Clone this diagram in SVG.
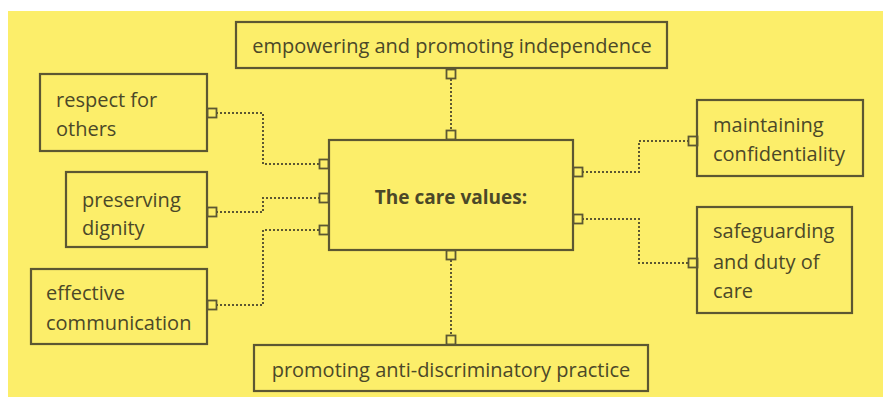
<svg xmlns="http://www.w3.org/2000/svg" width="883" height="397" viewBox="0 0 883 397">
<style>
.box{fill:none;stroke:#5c5732;stroke-width:2.2}
.sq{fill:#fcee6a;stroke:#5c5732;stroke-width:1.8}
.dot{fill:none;stroke:#5c5732;stroke-width:2;stroke-dasharray:2 2}
text{font-family:"Open Sans","Noto Sans","Liberation Sans",sans-serif;font-size:20px;fill:#4b4828}
.c{text-anchor:middle}
.b{font-weight:700;font-size:19px}
</style>
<rect x="0" y="0" width="883" height="397" fill="#ffffff"/>
<rect x="8" y="11" width="875" height="386" fill="#fcee6a"/>
<g id="connectors">
<path class="dot" d="M451 79V130"/>
<path class="dot" d="M451 260V335"/>
<path class="dot" d="M216 113H263V164H319"/>
<path class="dot" d="M216 212H263V198H319"/>
<path class="dot" d="M216 305H263V230H319"/>
<path class="dot" d="M582 172H639V141H688"/>
<path class="dot" d="M582 219H639V263H688"/>
<rect class="sq" x="446.5" y="69.5" width="9" height="9"/>
<rect class="sq" x="446.5" y="130.5" width="9" height="9"/>
<rect class="sq" x="446.5" y="250.5" width="9" height="9"/>
<rect class="sq" x="446.5" y="335.5" width="9" height="9"/>
<rect class="sq" x="207.5" y="108.5" width="9" height="9"/>
<rect class="sq" x="207.5" y="207.5" width="9" height="9"/>
<rect class="sq" x="207.5" y="300.5" width="9" height="9"/>
<rect class="sq" x="319.5" y="159.5" width="9" height="9"/>
<rect class="sq" x="319.5" y="193.5" width="9" height="9"/>
<rect class="sq" x="319.5" y="225.5" width="9" height="9"/>
<rect class="sq" x="573.5" y="167.5" width="9" height="9"/>
<rect class="sq" x="573.5" y="214.5" width="9" height="9"/>
<rect class="sq" x="688.5" y="136.5" width="9" height="9"/>
<rect class="sq" x="688.5" y="258.5" width="9" height="9"/>
</g>
<g id="center">
<rect class="box" x="329" y="140" width="244" height="110"/>
<text class="c b" x="451" y="204">The care values:</text>
</g>
<g id="top">
<rect class="box" x="236" y="22" width="431" height="46"/>
<text class="c" x="452" y="53">empowering and promoting independence</text>
</g>
<g id="bottom">
<rect class="box" x="254" y="345" width="394" height="46"/>
<text class="c" x="451" y="377">promoting anti-discriminatory practice</text>
</g>
<g id="respect">
<rect class="box" x="40" y="74" width="167" height="77"/>
<text x="56" y="107">respect for</text>
<text x="56" y="136">others</text>
</g>
<g id="dignity">
<rect class="box" x="66" y="172" width="141" height="75"/>
<text x="82" y="207">preserving</text>
<text x="82" y="235">dignity</text>
</g>
<g id="communication">
<rect class="box" x="31" y="269" width="176" height="75"/>
<text x="46" y="300">effective</text>
<text x="46" y="330">communication</text>
</g>
<g id="confidentiality">
<rect class="box" x="697" y="100" width="166" height="76"/>
<text x="713" y="132">maintaining</text>
<text x="713" y="161">confidentiality</text>
</g>
<g id="safeguarding">
<rect class="box" x="697" y="207" width="155" height="106"/>
<text x="713" y="238">safeguarding</text>
<text x="713" y="269">and duty of</text>
<text x="713" y="298">care</text>
</g>
</svg>
